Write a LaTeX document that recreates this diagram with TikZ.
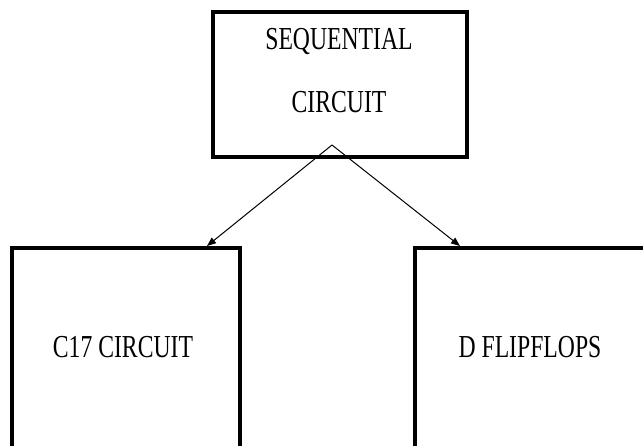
\documentclass[tikz,border=0pt]{standalone}
\usepackage{fontspec}
\setmainfont{Liberation Serif}
\newfontfamily\condserif[FakeStretch=0.74]{Liberation Serif}
\usetikzlibrary{arrows.meta}
\tikzset{
  boxnode/.style={draw=black, line width=4pt, inner sep=0pt, fill=white},
  lbl/.style={font=\condserif\fontsize{32}{38}\selectfont, inner sep=0pt, anchor=base},
  conn/.style={line width=1pt, -{Triangle[length=9pt,width=7pt]}}
}
\begin{document}
\begin{tikzpicture}[x=1pt,y=-1pt]
\useasboundingbox (0,0) rectangle (643,446);
\fill[white] (0,0) rectangle (643,446);
\clip (0,0) rectangle (643,446);
% boxes
\node[boxnode, minimum width=254pt, minimum height=145pt] (seq) at (340,84.5) {};
\node[boxnode, minimum width=228pt, minimum height=230pt] (c17) at (126,363) {};
\node[boxnode, minimum width=245pt, minimum height=230pt] (dff) at (537.5,363) {};
% texts
\node[lbl] (seqa) at (339,50) {SEQUENTIAL};
\node[lbl] (seqb) at (339,113) {CIRCUIT};
\node[lbl] (c17t) at (123,358) {C17 CIRCUIT};
\node[lbl] (dfft) at (530,358) {D FLIPFLOPS};
% connectors
\coordinate (peak) at (332,145);
\coordinate (lt) at (207,246);
\coordinate (rt) at (460,246);
\draw[conn] (peak) -- (lt);
\draw[conn] (peak) -- (rt);
\end{tikzpicture}
\end{document}
